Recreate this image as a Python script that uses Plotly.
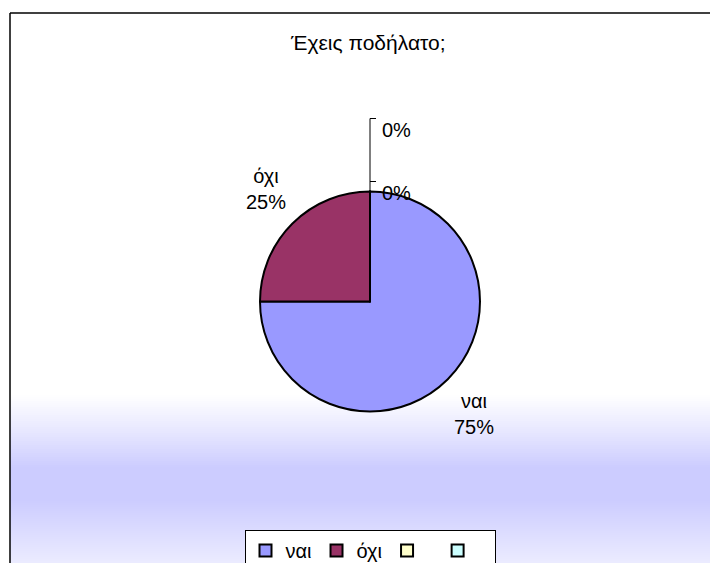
import math
import plotly.graph_objects as go

# ---- data ----
title_text = "Έχεις ποδήλατο;"
categories = ["ναι", "όχι", "\u00a0", "\u00a0\u00a0"]
label_names = ["ναι", "όχι", "", ""]
values = [75, 25, 0, 0]
slice_colors = ["#9999FF", "#993366", "#FFFFCC", "#CCFFFF"]

# ---- layout constants (page pixels; page body has an 8px margin) ----
OFF = 8
W, H = 718 - OFF, 563
CX, CY, R = 370.0, 301.5, 110.0
FONT = "Liberation Sans, Arial, sans-serif"
FS = 20
FS_TITLE = 21

def px_x(x):
    return (x - OFF) / W

def px_y(y):
    return 1 - (y - OFF) / H

fig = go.Figure()
fig.add_trace(go.Pie(
    labels=categories,
    values=values,
    sort=False,
    direction="clockwise",
    rotation=0,
    marker=dict(colors=slice_colors, line=dict(color="black", width=2)),
    textinfo="none",
    hoverinfo="label+percent",
    domain=dict(x=[px_x(CX - R), px_x(CX + R)], y=[px_y(CY + R), px_y(CY - R)]),
    showlegend=True,
))

shapes = []
# gradient background strips (white -> lavender -> lighter)
stops = [(13, (255, 255, 255)), (395, (255, 255, 255)), (430, (232, 232, 255)),
         (468, (204, 204, 255)), (500, (204, 204, 255)), (563, (236, 236, 255))]

def col_at(y):
    for (y0, c0), (y1, c1) in zip(stops[:-1], stops[1:]):
        if y0 <= y <= y1:
            t = (y - y0) / (y1 - y0) if y1 > y0 else 0
            return tuple(round(a + (b - a) * t) for a, b in zip(c0, c1))
    return stops[-1][1]

step = 2
y = 385
while y < 571:
    c = col_at(y + step / 2)
    shapes.append(dict(type="rect", xref="paper", yref="paper", layer="below",
                       x0=px_x(10), x1=1.0, y0=max(px_y(y + step + 1), 0), y1=px_y(y),
                       fillcolor="rgb(%d,%d,%d)" % c, line=dict(width=0)))
    y += step

# chart frame (top and left edges)
shapes.append(dict(type="line", xref="paper", yref="paper", x0=px_x(10), x1=1.0,
                   y0=px_y(13), y1=px_y(13), line=dict(color="black", width=1.5)))
shapes.append(dict(type="line", xref="paper", yref="paper", x0=px_x(10), x1=px_x(10),
                   y0=px_y(13), y1=0, line=dict(color="black", width=1.5)))

annotations = []
total = sum(values)
cum = 0.0
zero_idx = 0
for name, v in zip(label_names, values):
    frac = v / total
    pct = "%d%%" % round(frac * 100)
    mid = (cum + frac / 2) * 2 * math.pi
    cum += frac
    if v > 0:
        lx = CX + 1.34 * R * math.sin(mid)
        ly = CY - 1.45 * R * math.cos(mid)
        annotations.append(dict(x=px_x(lx), y=px_y(ly), xref="paper", yref="paper",
                                text=(name + "<br>" + pct) if name else pct,
                                showarrow=False, xanchor="center", yanchor="middle",
                                font=dict(family=FONT, size=FS, color="black")))
    else:
        # stacked labels with leader line at the slice's angle (top of pie)
        ex = CX + R * math.sin(mid)
        ey = CY - R * math.cos(mid)
        ly = ey + 1.5 - 63 * zero_idx
        ty = ly - 11.5
        annotations.append(dict(x=px_x(ex + 10), y=px_y(ly), xref="paper", yref="paper",
                                text=pct, showarrow=False, xanchor="left", yanchor="middle",
                                font=dict(family=FONT, size=FS, color="black")))
        shapes.append(dict(type="line", xref="paper", yref="paper",
                           x0=px_x(ex), x1=px_x(ex + 6), y0=px_y(ty), y1=px_y(ty),
                           line=dict(color="black", width=1)))
        if zero_idx > 0:
            shapes.append(dict(type="line", xref="paper", yref="paper",
                               x0=px_x(ex), x1=px_x(ex), y0=px_y(ty), y1=px_y(ey),
                               line=dict(color="black", width=1)))
        zero_idx += 1

annotations.append(dict(x=px_x(368), y=px_y(42), xref="paper", yref="paper",
                        text=title_text, showarrow=False, xanchor="center", yanchor="middle",
                        font=dict(family=FONT, size=FS_TITLE, color="black")))

fig.update_layout(
    width=W, height=H,
    margin=dict(l=0, r=0, t=0, b=0),
    paper_bgcolor="white",
    plot_bgcolor="white",
    shapes=shapes,
    annotations=annotations,
    legend=dict(orientation="h", x=px_x(370), xanchor="center", y=px_y(530), yanchor="top",
                bgcolor="white", bordercolor="black", borderwidth=1,
                font=dict(family=FONT, size=FS, color="black"),
                itemwidth=30, tracegroupgap=0),
)

fig.write_html("out.html")
